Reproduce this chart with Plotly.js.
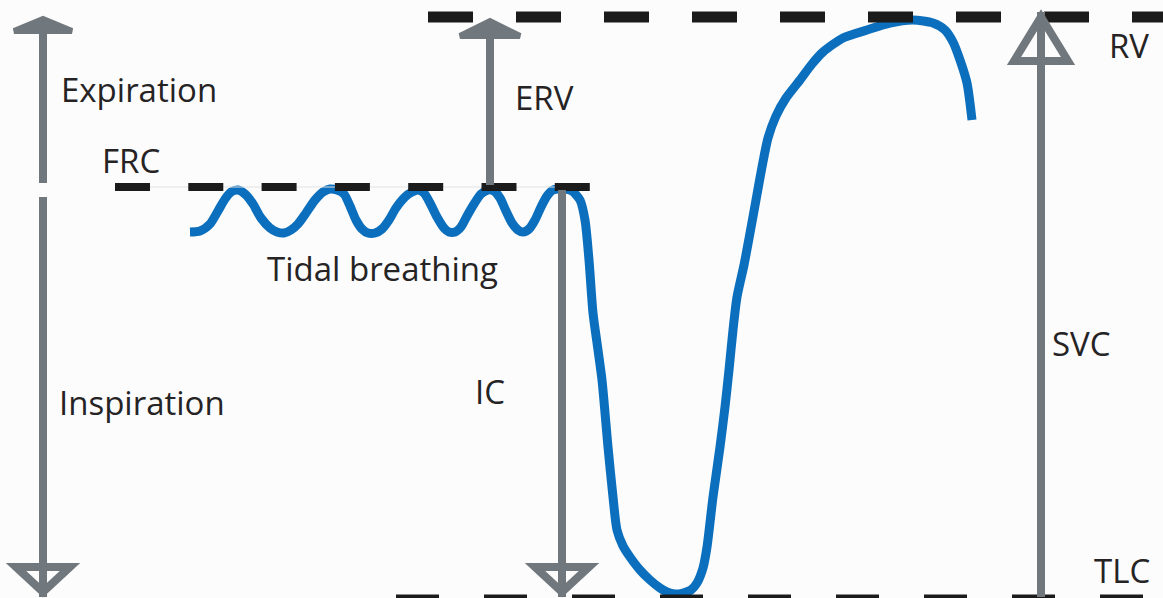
<!DOCTYPE html>
<html>
<head>
<meta charset="utf-8">
<script src="https://cdn.plot.ly/plotly-3.0.1.min.js"></script>
<style>html,body{margin:0;padding:0;background:#fcfcfc;}#chart{width:1163px;height:598px;}</style>
</head>
<body>
<div id="chart"></div>
<script>
// Spirogram trace (horizontal position, volume level in diagram units; y grows downward)
const curveX = [190,200,210,218,225,231,238,245,253,261,270,277,284,291,298,306,315,323,330,337,344,350,356,362,368,375,382,389,396,405,412,418,424,430,437,444,449,455,461,467,474,481,488,494,500,506,512,518,523,529,535,541,547,553,559,565,572,580,585,589,593,598,602,608,613,617,623,630,640,650,660,667,675,683,691,697,703,707,713,720,725,729,733,737,744,750,756,762,768,776,786,800,812,823,843,867,890,913,933,945,953,960,967,972];
const curveY = [232,231,224,211,199,192,190,194,204,218,228,232,233,230,224,213,200,192,189,190,194,206,220,229,233,233,229,220,208,197,192,190,193,203,217,228,232,232,227,216,204,194,190,191,198,211,223,230,232,229,220,207,196,190,189,189,191,200,220,260,313,350,380,447,497,530,546,557,570,580,588,592,594,593,590,583,568,547,497,447,407,370,330,297,265,233,200,167,138,116,98,80,64,52,38,30,23,20,23,30,42,60,83,120];

// Reference levels
const levelNames = ["RV","FRC","TLC"];
const levelY     = [17, 187, 599];
const levelX0    = [428, 115, 396];
const levelX1    = [1163, 590, 1163];
const levelDash  = ["45px,43px","35px,38.3px","43px,45px"];
const levelWidth = [11, 8, 9];

// Arrows: x, tail y, tip y, head style
const arrowX     = [43, 43, 490, 562, 1041];
const arrowTail  = [183, 197, 185, 190, 597];
const arrowTip   = [16, 597, 18, 597, 12];
const arrowHead  = ["solid","open","solid","open","open"];
const headLen    = [17, 34, 20, 34, 53];
const headHalfW  = [32, 31, 33, 31, 31];

// Labels
const labelText = ["Expiration","FRC","ERV","Tidal breathing","Inspiration","IC","RV","SVC","TLC"];
const labelX    = [59, 100, 513, 265, 57, 473, 1107, 1050, 1092];
const labelY    = [89, 160, 97, 268, 402, 391, 45, 343, 570];

const gray = "#71787d";
const shapes = [];

// thin guide under FRC dashes
shapes.push({type:"line", xref:"x", yref:"y", x0:levelX0[1], x1:levelX1[1], y0:levelY[1], y1:levelY[1], line:{color:"#e2e2e2", width:1}});

for (let i = 0; i < levelNames.length; i++) {
  shapes.push({type:"line", xref:"x", yref:"y", x0:levelX0[i], x1:levelX1[i], y0:levelY[i], y1:levelY[i],
    line:{color:"#1b1b1b", width:levelWidth[i], dash:levelDash[i]}, layer:"above"});
}

for (let i = 0; i < arrowX.length; i++) {
  const x = arrowX[i], t = arrowTip[i], tail = arrowTail[i];
  const dir = t < tail ? 1 : -1; // 1 = pointing up (smaller y)
  const solid = arrowHead[i] === "solid";
  const w = headHalfW[i], L = headLen[i];
  shapes.push({type:"line", xref:"x", yref:"y", x0:x, x1:x, y0:tail, y1: solid ? t + dir*L : t, line:{color:gray, width:8}, layer:"above"});
  let path;
  if (solid) {
    const base = t + dir*L;
    path = `M ${x-w+3},${base-dir*2} L ${x},${t+dir*3} L ${x+w-3},${base-dir*2} Z`;
    shapes.push({type:"path", xref:"x", yref:"y", path:path, fillcolor:gray, line:{color:gray, width:6}, layer:"above"});
  } else {
    const tipC = t + dir*5, baseC = t + dir*(L-4);
    path = `M ${x-w+4},${baseC} L ${x},${tipC} L ${x+w-4},${baseC} Z`;
    shapes.push({type:"path", xref:"x", yref:"y", path:path, fillcolor:"rgba(0,0,0,0)", line:{color:gray, width:8}, layer:"above"});
  }
}

const annotations = labelText.map((s, i) => ({
  x: labelX[i], y: labelY[i], xref:"x", yref:"y", text: s, showarrow:false,
  xanchor:"left", yanchor:"middle",
  font:{family:"Open Sans, sans-serif", size:33, color:"#262324"}
}));

const traces = [{
  x: curveX, y: curveY, type:"scatter", mode:"lines",
  line:{color:"#0b6fbd", width:9, shape:"spline", smoothing:0.7},
  hoverinfo:"skip", showlegend:false
}];

const layout = {
  width:1163, height:598,
  margin:{l:0, r:0, t:0, b:0},
  paper_bgcolor:"#fcfcfc", plot_bgcolor:"#fcfcfc",
  xaxis:{range:[0,1163], visible:false, fixedrange:true},
  yaxis:{range:[598,0], visible:false, fixedrange:true},
  shapes: shapes, annotations: annotations, showlegend:false
};

Plotly.newPlot("chart", traces, layout, {displayModeBar:false, staticPlot:true});
</script>
</body>
</html>
